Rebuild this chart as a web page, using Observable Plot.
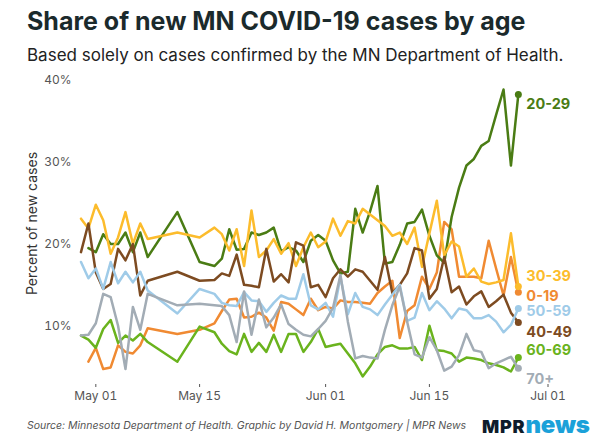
<!DOCTYPE html>
<html><head><meta charset="utf-8">
<script src="https://cdn.jsdelivr.net/npm/d3@7"></script>
<script src="https://cdn.jsdelivr.net/npm/@observablehq/plot@0.6"></script>
<style>
html,body{margin:0;padding:0;background:#fff;}
#wrap{position:relative;width:600px;height:442px;overflow:hidden;font-family:Inter, Roboto, sans-serif;}
#title{position:absolute;left:27px;top:6px;font-size:25px;font-weight:700;color:#1b2a2c;white-space:nowrap;line-height:1.2;}
#subtitle{position:absolute;left:27px;top:45px;font-size:17px;color:#222;white-space:nowrap;line-height:1.2;}
#chart{position:absolute;left:0;top:68px;}
#caption{position:absolute;left:27px;top:419px;font-size:10.5px;font-style:italic;color:#555;white-space:nowrap;}
#logo{position:absolute;left:482px;top:413px;white-space:nowrap;font-family:Inter, Roboto, sans-serif;font-weight:900;line-height:1;}
#logo .a{color:#0e1c2b;font-size:18px;letter-spacing:0.8px;}
#logo .b{color:#1ba1d9;font-size:24px;letter-spacing:-0.2px;}
</style></head>
<body><div id="wrap">
<div id="title">Share of new MN COVID-19 cases by age</div>
<div id="subtitle">Based solely on cases confirmed by the MN Department of Health.</div>
<div id="chart"></div>
<div id="caption">Source: Minnesota Department of Health. Graphic by David H. Montgomery | MPR News</div>
<div id="logo"><span class="a">MPR</span><span class="b">news</span></div>
</div>
<script>
const dates = ["2020-04-29","2020-04-30","2020-05-01","2020-05-02","2020-05-03","2020-05-04","2020-05-05","2020-05-06","2020-05-07","2020-05-08",
"2020-05-12","2020-05-15","2020-05-17","2020-05-18","2020-05-19","2020-05-20","2020-05-21","2020-05-22","2020-05-23","2020-05-24",
"2020-05-25","2020-05-26","2020-05-27","2020-05-28","2020-05-29","2020-05-30","2020-05-31","2020-06-01","2020-06-02","2020-06-03",
"2020-06-04","2020-06-05","2020-06-06","2020-06-07","2020-06-08","2020-06-09","2020-06-10","2020-06-11","2020-06-12","2020-06-13",
"2020-06-14","2020-06-15","2020-06-16","2020-06-17","2020-06-18","2020-06-19","2020-06-20","2020-06-21","2020-06-22","2020-06-23",
"2020-06-24","2020-06-25","2020-06-26","2020-06-27"];

const ages = ["0-19","20-29","30-39","40-49","50-59","60-69","70+"];
const colors = ["#f08a32","#4a7c14","#fcbc2c","#7d4b21","#9fcbe8","#6ab31d","#a2acb5"];

const age0_19 = [null,5.6,7.3,4.7,4.9,7.6,6.8,6.6,7.6,9.7,
9.0,9.5,10.3,11.8,13.2,13.3,11.0,11.1,11.6,11.0,
9.4,12.9,12.7,12.0,11.3,13.3,11.9,12.3,12.1,13.1,
12.9,12.9,12.8,12.7,14.0,14.8,15.5,8.5,11.8,12.5,
16.0,14.5,16.5,22.7,21.8,16.0,16.0,16.0,15.8,20.4,
17.0,13.7,18.4,14.1];
const age20_29 = [null,19.5,19.0,21.2,20.0,20.0,21.4,19.0,21.4,18.4,
23.9,17.8,17.3,18.2,21.8,19.3,19.4,21.4,21.1,21.4,
22.0,19.1,19.6,19.2,17.8,20.4,21.1,20.4,18.0,16.4,
16.6,24.3,21.4,24.0,27.1,17.6,17.8,19.9,22.5,22.7,
24.2,21.0,18.6,17.7,23.3,26.9,29.6,30.4,32.0,32.6,
35.8,38.9,29.6,38.3];
const age30_39 = [23.1,21.9,24.8,22.9,18.8,20.8,23.9,20.0,22.5,20.6,
21.4,20.8,22.0,21.2,19.2,21.8,17.3,24.1,18.4,19.2,
20.6,18.8,20.1,17.3,19.6,21.4,19.6,20.3,23.1,21.0,
22.8,22.5,24.3,23.6,22.9,22.2,21.0,21.4,20.0,22.0,
17.2,21.3,25.3,18.6,20.3,19.7,16.0,17.0,15.4,15.1,
15.3,15.6,21.3,14.8];
const age40_49 = [19.0,22.5,16.5,14.5,15.1,19.4,18.0,20.0,13.7,15.5,
16.6,15.5,15.6,16.4,16.1,18.7,15.0,14.9,14.7,19.4,
15.4,16.3,15.3,20.2,19.8,14.7,15.0,13.5,15.8,16.9,
16.0,16.9,16.6,15.5,14.4,18.4,14.0,15.0,16.4,19.5,
19.2,13.3,14.5,18.4,14.1,14.8,12.6,13.6,14.2,12.3,
13.0,13.8,11.6,10.4];
const age50_59 = [17.8,15.8,17.0,14.5,17.8,15.2,16.6,15.3,16.6,14.3,
11.5,14.5,13.9,12.8,12.5,12.4,14.1,13.1,13.0,11.7,
12.8,13.7,13.3,13.3,16.3,12.5,12.0,12.8,11.1,16.0,
11.4,14.0,12.3,12.0,11.3,12.6,13.8,15.0,10.6,11.0,
14.0,11.9,13.0,12.1,10.9,12.1,11.9,10.9,10.9,11.3,
10.5,9.2,10.1,12.1];
const age60_69 = [8.8,8.3,7.3,9.6,10.7,7.9,8.8,8.2,9.0,8.0,
5.6,9.9,9.2,7.8,6.9,6.5,9.0,6.8,7.9,6.8,
8.9,6.8,9.0,9.0,6.8,8.0,9.6,7.4,7.6,7.8,
6.6,5.4,3.8,5.0,6.5,7.4,7.6,7.2,7.2,7.4,
5.8,10.0,7.0,6.9,6.6,5.6,6.1,6.0,5.8,5.4,
5.2,4.9,4.4,6.1];
const age70plus = [8.8,8.9,10.3,13.9,13.5,10.0,4.7,12.3,9.5,13.9,
12.5,12.7,12.5,12.4,11.3,8.0,14.2,8.9,13.2,9.8,
11.0,12.6,10.2,9.5,8.9,8.7,9.6,10.6,12.2,16.2,
10.5,6.0,6.3,6.1,6.0,9.5,12.5,14.8,10.5,6.5,
6.1,8.6,7.0,4.5,5.0,6.4,9.0,7.0,6.8,4.8,
5.4,5.8,6.2,4.8];

const seriesValues = [age0_19, age20_29, age30_39, age40_49, age50_59, age60_69, age70plus];
const yTicks = [10, 20, 30, 40];
const xTicks = ["2020-05-01","2020-05-15","2020-06-01","2020-06-15","2020-07-01"];

// label vertical nudges (px) to keep end labels apart
const labelDy = {"0-19": 4, "20-29": 10, "30-39": -10, "40-49": 10, "50-59": 3, "60-69": -7, "70+": 11};

const parse = d3.utcParse("%Y-%m-%d");
const rows = [];
ages.forEach((a, k) => seriesValues[k].forEach((v, i) => {
  if (v != null) rows.push({date: parse(dates[i]), value: v, age: a});
}));
const last = ages.map(a => rows.filter(r => r.age === a).at(-1));

const plot = Plot.plot({
  width: 600, height: 346,
  marginTop: 12, marginBottom: 30, marginLeft: 80, marginRight: 52,
  style: {fontFamily: "Inter, Roboto, sans-serif", background: "white", overflow: "visible"},
  x: {type: "utc", domain: [parse("2020-04-29"), parse("2020-07-01")], range: [80.5, 547.5]},
  y: {domain: [2.81, 40]},
  color: {domain: ages, range: colors},
  marks: [
    Plot.axisY({ticks: yTicks, tickFormat: d => d + "%", tickSize: 0, tickPadding: 9, fontSize: 12, color: "#555", label: null}),
    Plot.axisX({ticks: xTicks.map(parse), tickFormat: d3.utcFormat("%b %d"), tickSize: 3, tickPadding: 4, fontSize: 12, color: "#555", label: null}),
    Plot.text(["Percent of new cases"], {frameAnchor: "left", textAnchor: "middle", rotate: -90, dx: -48, dy: -9, fontSize: 14, fill: "#333"}),
    Plot.line(rows, {x: "date", y: "value", z: "age", stroke: "age", strokeWidth: 2.5, strokeLinejoin: "round", strokeLinecap: "round"}),
    Plot.dot(last, {x: "date", y: "value", fill: "age", r: 3.5}),
    ...last.map(d => Plot.text([d], {x: "date", y: "value", text: "age", fill: "age", dx: 8, dy: labelDy[d.age], textAnchor: "start", fontWeight: "bold", fontSize: 14.5}))
  ]
});
document.getElementById("chart").appendChild(plot);
</script>
</body></html>
